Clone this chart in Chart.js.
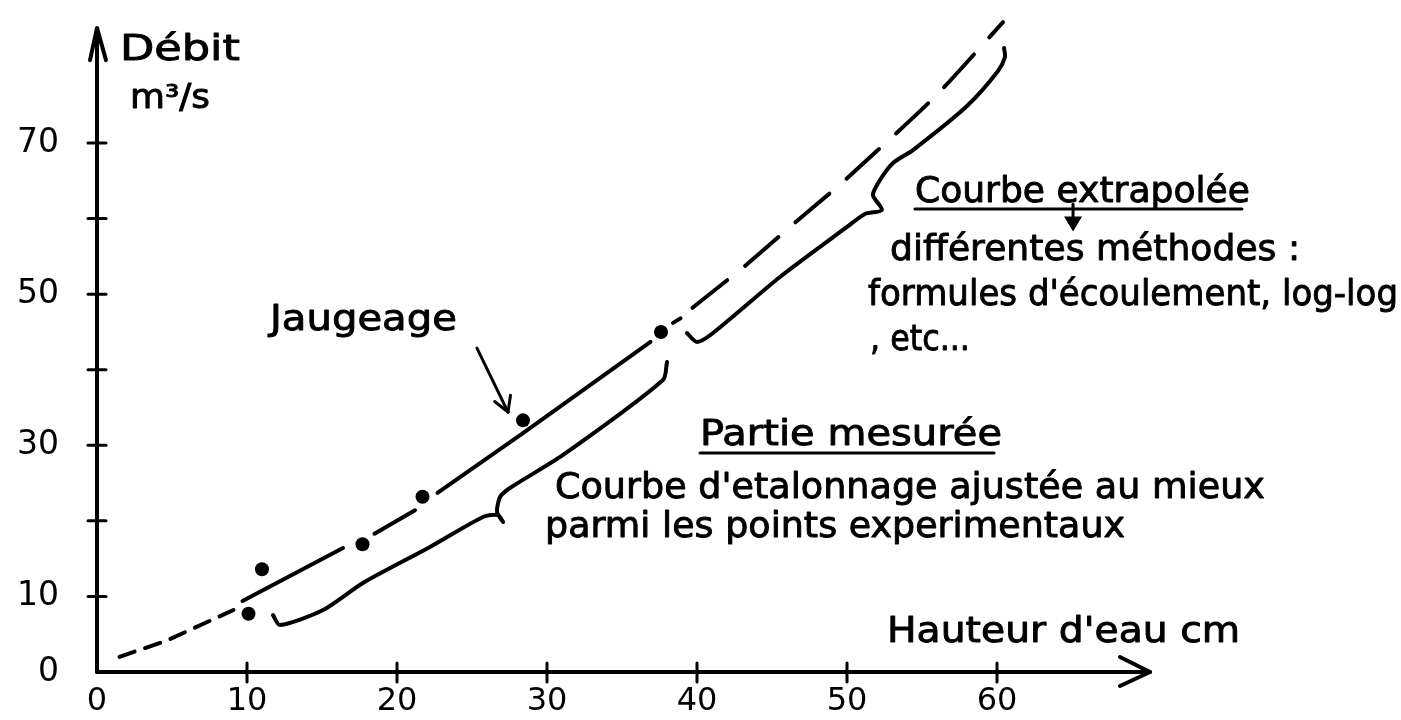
<!DOCTYPE html>
<html>
<head>
<meta charset="utf-8">
<title>Courbe de tarage</title>
<script src="https://cdn.jsdelivr.net/npm/chart.js@4.4.1/dist/chart.umd.min.js"></script>
<style>
    html, body { margin: 0; padding: 0; background: #fff; }
</style>
</head>
<body>
<canvas id="chart" width="1401" height="720"></canvas>
<script>
// ------------------------------
// Data (hauteur d'eau en cm, débit en m3/s)
// ------------------------------

// jaugeages
const gaugeHeights = [10.1, 11.0, 17.7, 21.7, 28.4, 37.6];
const gaugeFlows = [7.7, 13.6, 16.9, 23.2, 33.3, 45.0];

// partie mesurée (null = le trait est interrompu)
const measuredHeights = [9.7, 16.4, 17.5, 18.5, 21.2, 22.0, 22.7, 28.4, 36.9, 37.6, 38.4, 38.9];
const measuredFlows = [9.4, 16.4, null, 18.3, 21.4, null, 23.7, 31.6, 43.7, null, 46.2, 46.8];

// extrapolation vers le bas
const lowHeights = [1.5, 4.7, 9.1];
const lowFlows = [2.0, 4.2, 8.2];

// courbe extrapolée vers le haut
const highHeights = [39.7, 43.3, 46.5, 49.7, 55.9, 60.4];
const highFlows = [48.2, 53.9, 59.4, 64.8, 76.2, 86.0];

// accolades
const braceLowHeights = [11.73, 12.2, 15.07, 17.73, 22.2, 25.73, 26.73, 27.07, 26.67, 26.87, 27.53, 31.07, 37.73, 38.0];
const braceLowFlows = [7.54, 6.22, 8.2, 11.78, 16.54, 20.51, 20.78, 19.85, 21.17, 23.16, 24.35, 28.72, 38.64, 41.02];
const braceHighHeights = [39.33, 40.0, 41.07, 45.53, 50.0, 51.2, 52.33, 51.73, 52.2, 53.07, 54.4, 58.0, 60.07, 60.53, 60.47];
const braceHighFlows = [44.86, 43.67, 44.86, 52.27, 58.89, 60.61, 61.14, 63.12, 65.1, 67.35, 69.07, 74.9, 79.53, 81.38, 82.57];

// axes
const xLabels = [0, 10, 20, 30, 40, 50, 60];
const yLabels = [0, 10, 30, 50, 70];
const xTickMarks = [10, 20, 30, 40, 50, 60];
const yTickMarks = [10, 20, 30, 40, 50, 60, 70];
const xAxisEnd = 70.2;
const yAxisEnd = 85.2;

const ink = "#000";
const hand = '"DejaVu Sans", sans-serif';

// ------------------------------
// Annotations (positions in data units)
// ------------------------------

const notes = [
    { text: "Débit", x: 1.53, y: 80.98, size: 36, width: 120 },
    { text: "m³/s", x: 2.2, y: 74.63, size: 33, width: 80 },
    { text: "Jaugeage", x: 11.53, y: 45.26, size: 35, width: 187 },
    { text: "Courbe extrapolée", x: 54.53, y: 62.19, size: 35, width: 335, underline: 7 },
    { text: "différentes méthodes :", x: 52.87, y: 54.52, size: 35, width: 410 },
    { text: "formules d'écoulement, log-log", x: 51.4, y: 48.56, size: 35, width: 530 },
    { text: ", etc...", x: 51.53, y: 42.61, size: 35, width: 100 },
    { text: "Partie mesurée", x: 40.2, y: 30.04, size: 35, width: 302, underline: 8 },
    { text: "Courbe d'etalonnage ajustée au mieux", x: 30.53, y: 23.03, size: 35, width: 710 },
    { text: "parmi les points experimentaux", x: 29.87, y: 17.86, size: 35, width: 580 },
    { text: "Hauteur d'eau cm", x: 52.67, y: 3.97, size: 35, width: 353 }
];

const gaugeArrow = { from: [25.33, 42.87], to: [27.4, 34.4] };
const methodArrow = { x: 65.07, from: 61.9, to: 58.3 };

function pairs(xs, ys) {
    return xs.map((x, i) => ({ x: x, y: ys[i] }));
}

function seg(ctx, x1, y1, x2, y2) {
    ctx.beginPath();
    ctx.moveTo(x1, y1);
    ctx.lineTo(x2, y2);
    ctx.stroke();
}

// stretch the text to the width of the handwriting
function drawNote(ctx, n, px, py) {
    ctx.font = n.size + "px " + hand;
    const w = ctx.measureText(n.text).width;
    ctx.save();
    ctx.translate(px, py);
    ctx.scale(n.width / w, 1);
    ctx.lineWidth = 0.9;
    ctx.fillText(n.text, 0, 0);
    ctx.strokeText(n.text, 0, 0);
    ctx.restore();
    if (n.underline) {
        ctx.lineWidth = 3;
        seg(ctx, px, py + n.underline, px + n.width - 8, py + n.underline);
    }
}

const sketchPlugin = {
    id: "sketch",
    afterDraw(chart) {
        const ctx = chart.ctx;
        const X = v => chart.scales.x.getPixelForValue(v);
        const Y = v => chart.scales.y.getPixelForValue(v);
        const x0 = X(0), y0 = Y(0);

        ctx.save();
        ctx.strokeStyle = ink;
        ctx.fillStyle = ink;
        ctx.lineCap = "round";
        ctx.lineJoin = "round";
        ctx.lineWidth = 4;

        // axes with arrows
        seg(ctx, x0, y0, X(xAxisEnd), y0);
        seg(ctx, x0, y0, x0, Y(yAxisEnd));
        ctx.beginPath();
        ctx.moveTo(X(xAxisEnd) - 30, y0 - 15);
        ctx.lineTo(X(xAxisEnd), y0);
        ctx.lineTo(X(xAxisEnd) - 30, y0 + 14);
        ctx.stroke();
        ctx.beginPath();
        ctx.moveTo(x0 - 7, Y(yAxisEnd) + 32);
        ctx.lineTo(x0, Y(yAxisEnd));
        ctx.lineTo(x0 + 9, Y(yAxisEnd) + 32);
        ctx.stroke();

        // tick marks across the axes
        ctx.lineWidth = 3;
        xTickMarks.forEach(v => seg(ctx, X(v), y0 - 9, X(v), y0 + 10));
        yTickMarks.forEach(v => seg(ctx, x0 - 9, Y(v), x0 + 9, Y(v)));

        // arrow to the gauging point
        const ax = X(gaugeArrow.from[0]), ay = Y(gaugeArrow.from[1]);
        const bx = X(gaugeArrow.to[0]), by = Y(gaugeArrow.to[1]);
        seg(ctx, ax, ay, bx, by);
        const ang = Math.atan2(ay - by, ax - bx);
        [0.6, -0.45].forEach(d => {
            seg(ctx, bx, by, bx + 17 * Math.cos(ang + d), by + 17 * Math.sin(ang + d));
        });

        // little arrow under "Courbe extrapolée"
        const mx = X(methodArrow.x);
        seg(ctx, mx, Y(methodArrow.from), mx, Y(methodArrow.to) - 12);
        ctx.beginPath();
        ctx.moveTo(mx - 9, Y(methodArrow.to) - 15);
        ctx.lineTo(mx + 9, Y(methodArrow.to) - 15);
        ctx.lineTo(mx, Y(methodArrow.to));
        ctx.closePath();
        ctx.fill();

        // texts
        ctx.textBaseline = "alphabetic";
        ctx.textAlign = "left";
        notes.forEach(n => drawNote(ctx, n, X(n.x), Y(n.y)));

        ctx.restore();
    }
};

// ------------------------------
// Chart
// ------------------------------

const lineStyle = {
    showLine: true,
    borderColor: ink,
    borderWidth: 4,
    borderCapStyle: "round",
    borderJoinStyle: "round",
    pointRadius: 0,
    spanGaps: false
};

new Chart(document.getElementById("chart"), {

    type: "scatter",

    data: {
        datasets: [
            {
                label: "Jaugeage",
                data: pairs(gaugeHeights, gaugeFlows),
                pointRadius: 7,
                pointBackgroundColor: ink,
                pointBorderWidth: 0,
                showLine: false
            },
            Object.assign({ label: "Partie mesurée", data: pairs(measuredHeights, measuredFlows) }, lineStyle),
            Object.assign({ label: "Extrapolation basse", data: pairs(lowHeights, lowFlows), borderDash: [16, 11] }, lineStyle),
            Object.assign({ label: "Courbe extrapolée", data: pairs(highHeights, highFlows), borderDash: [44, 23], tension: 0.2 }, lineStyle),
            Object.assign({ label: "Accolade mesurée", data: pairs(braceLowHeights, braceLowFlows), tension: 0.25 }, lineStyle),
            Object.assign({ label: "Accolade extrapolée", data: pairs(braceHighHeights, braceHighFlows), tension: 0.25 }, lineStyle)
        ]
    },

    options: {
        responsive: false,
        animation: false,
        layout: { padding: { top: 7, right: 254, bottom: 0, left: 0 } },
        plugins: {
            legend: { display: false },
            tooltip: { enabled: false }
        },
        scales: {
            x: {
                type: "linear",
                min: 0,
                max: 70,
                grid: { display: false, drawTicks: false },
                border: { display: false },
                ticks: {
                    stepSize: 10,
                    padding: 10,
                    autoSkip: false,
                    maxRotation: 0,
                    color: ink,
                    font: { family: hand, size: 32 },
                    callback: v => xLabels.includes(v) ? String(v) : ""
                },
                afterFit: s => { s.height = 48; s.paddingLeft = 0; s.paddingRight = 0; }
            },
            y: {
                type: "linear",
                min: 0,
                max: 88,
                grid: { display: false, drawTicks: false },
                border: { display: false },
                ticks: {
                    stepSize: 10,
                    padding: 38,
                    autoSkip: false,
                    color: ink,
                    font: { family: hand, size: 33 },
                    callback: v => yLabels.includes(v) ? String(v) : ""
                },
                afterFit: s => { s.width = 97; s.paddingTop = 0; s.paddingBottom = 0; }
            }
        }
    },

    plugins: [sketchPlugin]
});
</script>
</body>
</html>
